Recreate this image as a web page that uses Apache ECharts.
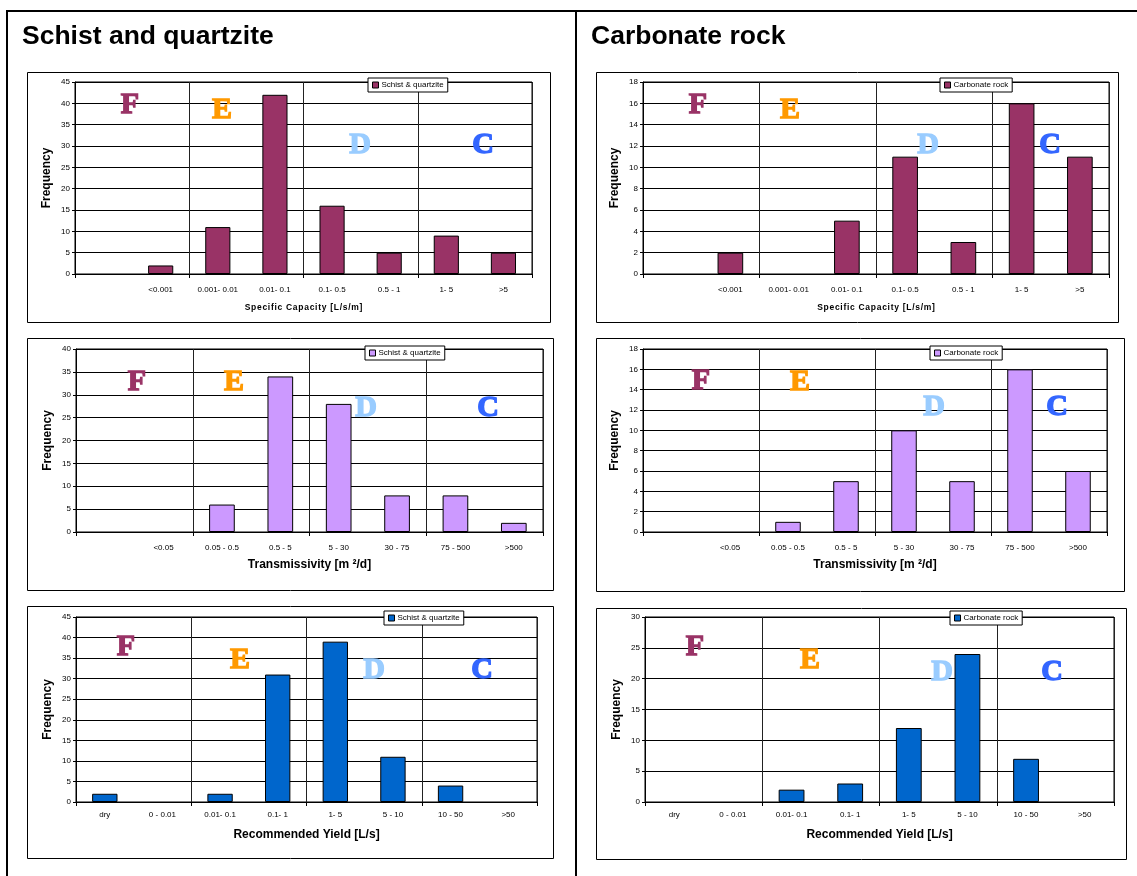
<!DOCTYPE html>
<html>
<head>
<meta charset="utf-8">
<script src="https://cdn.jsdelivr.net/npm/echarts@6/dist/echarts.min.js"></script>
<style>
  html, body { margin: 0; padding: 0; background: #fff; }
  #chart { width: 1137px; height: 876px; }
</style>
</head>
<body>
<div id="chart"></div>
<script>
// Category labels (first slot of the capacity / transmissivity axes is blank)
const capacityCats = ['', '<0.001', '0.001- 0.01', '0.01- 0.1', '0.1- 0.5', '0.5 - 1', '1- 5', '>5'];
const transCats = ['', '<0.05', '0.05 - 0.5', '0.5 - 5', '5 - 30', '30 - 75', '75 - 500', '>500'];
const yieldCats = ['dry', '0 - 0.01', '0.01- 0.1', '0.1- 1', '1- 5', '5 - 10', '10 - 50', '>50'];

// Frequencies per class
const capacitySchist = [null, 2, 11, 42, 16, 5, 9, 5];
const capacityCarbonate = [null, 2, 0, 5, 11, 3, 16, 11];
const transSchist = [null, 0, 6, 34, 28, 8, 8, 2];
const transCarbonate = [null, 0, 1, 5, 10, 5, 16, 6];
const yieldSchist = [2, 0, 2, 31, 39, 11, 4, 0];
const yieldCarbonate = [0, 0, 2, 3, 12, 24, 7, 0];

// Y-axis ranges
const yMax = [45, 18, 40, 18, 45, 30];
const yStep = [5, 2, 5, 2, 5, 5];

const SANS = '"Liberation Sans", Arial, sans-serif';
const SERIF = '"Liberation Serif", "Times New Roman", serif';

// Slightly tracked-out axis title (hair spaces between letters)
const spaced = (s) => s.split('').join('\u200A');

const panels = [
  { cats: capacityCats, data: capacitySchist, name: 'Schist & quartzite', color: '#993366',
    axisName: spaced('Specific Capacity [L/s/m]'), nameSize: 8.5, nameGap: 29, labelMargin: 12,
    grid: { left: 75, top: 82, width: 457, height: 192 },
    box: [27, 72, 523, 250], legend: { left: 368, top: 78 } },
  { cats: capacityCats, data: capacityCarbonate, name: 'Carbonate rock', color: '#993366',
    axisName: spaced('Specific Capacity [L/s/m]'), nameSize: 8.5, nameGap: 29, labelMargin: 12,
    grid: { left: 643, top: 82, width: 466, height: 192 },
    box: [596, 72, 522, 250], legend: { left: 940, top: 78 } },
  { cats: transCats, data: transSchist, name: 'Schist & quartzite', color: '#CC99FF',
    axisName: 'Transmissivity [m ²/d]', nameSize: 12, nameGap: 27, labelMargin: 12,
    grid: { left: 76, top: 349, width: 467, height: 183 },
    box: [27, 338, 526, 252], legend: { left: 365, top: 346 } },
  { cats: transCats, data: transCarbonate, name: 'Carbonate rock', color: '#CC99FF',
    axisName: 'Transmissivity [m ²/d]', nameSize: 12, nameGap: 27, labelMargin: 12,
    grid: { left: 643, top: 349, width: 464, height: 183 },
    box: [596, 338, 528, 253], legend: { left: 930, top: 346 } },
  { cats: yieldCats, data: yieldSchist, name: 'Schist & quartzite', color: '#0066CC',
    axisName: 'Recommended Yield [L/s]', nameSize: 12, nameGap: 27, labelMargin: 9,
    grid: { left: 76, top: 617, width: 461, height: 185 },
    box: [27, 606, 526, 252], legend: { left: 384, top: 611 } },
  { cats: yieldCats, data: yieldCarbonate, name: 'Carbonate rock', color: '#0066CC',
    axisName: 'Recommended Yield [L/s]', nameSize: 12, nameGap: 27, labelMargin: 9,
    grid: { left: 645, top: 617, width: 469, height: 185 },
    box: [596, 608, 530, 251], legend: { left: 950, top: 611 } }
];

// Yield-class letters placed over each plot (pixel centres)
const letterColors = { F: '#993366', E: '#FF9900', D: '#99CCFF', C: '#3366FF' };
const letterSpots = [
  { F: [130, 105], E: [222, 110], D: [360, 145], C: [483, 145] },
  { F: [698, 105], E: [790, 110], D: [928, 145], C: [1050, 145] },
  { F: [137, 382], E: [234, 382], D: [366, 408], C: [488, 408] },
  { F: [701, 381], E: [800, 382], D: [934, 407], C: [1057, 407] },
  { F: [126, 647], E: [240, 660], D: [374, 670], C: [482, 670] },
  { F: [695, 647], E: [810, 660], D: [942, 672], C: [1052, 672] }
];

// Vertical dividers and ticks every second class boundary
const everyOther = (idx) => idx % 2 === 0;

const grids = [], xAxes = [], yAxes = [], series = [], legends = [], graphics = [];

// Page frame and column headings
graphics.push(
  { type: 'line', shape: { x1: 7, y1: 11, x2: 1137, y2: 11 }, style: { stroke: '#000', lineWidth: 2 } },
  { type: 'line', shape: { x1: 7, y1: 10, x2: 7, y2: 876 }, style: { stroke: '#000', lineWidth: 2 } },
  { type: 'line', shape: { x1: 576, y1: 10, x2: 576, y2: 876 }, style: { stroke: '#000', lineWidth: 2 } },
  { type: 'text', x: 22, y: 37, style: { text: 'Schist and quartzite', font: 'bold 26.5px ' + SANS, fill: '#000', verticalAlign: 'middle' } },
  { type: 'text', x: 591, y: 37, style: { text: 'Carbonate rock', font: 'bold 26.5px ' + SANS, fill: '#000', verticalAlign: 'middle' } }
);

panels.forEach((p, i) => {
  graphics.push({ type: 'rect', shape: { x: p.box[0] + 0.5, y: p.box[1] + 0.5, width: p.box[2], height: p.box[3] },
    style: { fill: 'none', stroke: '#000', lineWidth: 1 }, z: 0 });

  grids.push(Object.assign({ show: true, borderColor: '#000', borderWidth: 1, backgroundColor: '#fff' }, p.grid));

  xAxes.push({
    type: 'category', gridIndex: i, data: p.cats, boundaryGap: true,
    name: p.axisName, nameLocation: 'middle', nameGap: p.nameGap,
    nameTextStyle: { fontFamily: SANS, fontWeight: 'bold', fontSize: p.nameSize, color: '#000' },
    axisLine: { show: true, lineStyle: { color: '#000', width: 1 } },
    axisTick: { show: true, interval: everyOther, length: 4, lineStyle: { color: '#000' } },
    axisLabel: { interval: 0, fontFamily: SANS, fontSize: 8, color: '#000', margin: p.labelMargin },
    splitLine: { show: true, interval: everyOther, lineStyle: { color: '#222', width: 1 } }
  });

  yAxes.push({
    type: 'value', gridIndex: i, min: 0, max: yMax[i], interval: yStep[i],
    name: 'Frequency', nameLocation: 'middle', nameGap: 22,
    nameTextStyle: { fontFamily: SANS, fontWeight: 'bold', fontSize: 12, color: '#000' },
    axisLine: { show: true, lineStyle: { color: '#000', width: 1 } },
    axisTick: { show: true, length: 3, lineStyle: { color: '#000' } },
    axisLabel: { fontFamily: SANS, fontSize: 8, color: '#000', margin: 5 },
    splitLine: { show: true, lineStyle: { color: '#000', width: 1 } }
  });

  series.push({
    type: 'bar', name: p.name, xAxisIndex: i, yAxisIndex: i, barWidth: '44%', animation: false,
    itemStyle: { color: p.color, borderColor: '#000', borderWidth: 1 },
    // empty classes get no outline so nothing thickens the axis line
    data: p.data.map(v => (v === 0 ? { value: 0, itemStyle: { borderWidth: 0 } } : v))
  });

  legends.push({
    left: p.legend.left, top: p.legend.top, orient: 'horizontal',
    data: [{ name: p.name, itemStyle: { color: p.color, borderColor: '#000', borderWidth: 1 } }],
    icon: 'rect', itemWidth: 6, itemHeight: 6, itemGap: 4,
    padding: [3, 4, 3, 4], backgroundColor: '#fff', borderColor: '#000', borderWidth: 1,
    textStyle: { fontFamily: SANS, fontSize: 8, color: '#000', padding: [0, 0, 0, -2] },
    selectedMode: false, z: 20
  });

  const spots = letterSpots[i];
  Object.keys(spots).forEach(k => {
    graphics.push({
      type: 'text', x: spots[k][0], y: spots[k][1], z: 15,
      style: { text: k, font: 'bold 30px ' + SERIF, fill: letterColors[k], stroke: letterColors[k], lineWidth: 1.3,
        align: 'center', verticalAlign: 'middle' }
    });
  });
});

const chart = echarts.init(document.getElementById('chart'), null, { renderer: 'canvas' });
chart.setOption({
  animation: false,
  grid: grids, xAxis: xAxes, yAxis: yAxes, series: series, legend: legends,
  graphic: { elements: graphics }
});
</script>
</body>
</html>
